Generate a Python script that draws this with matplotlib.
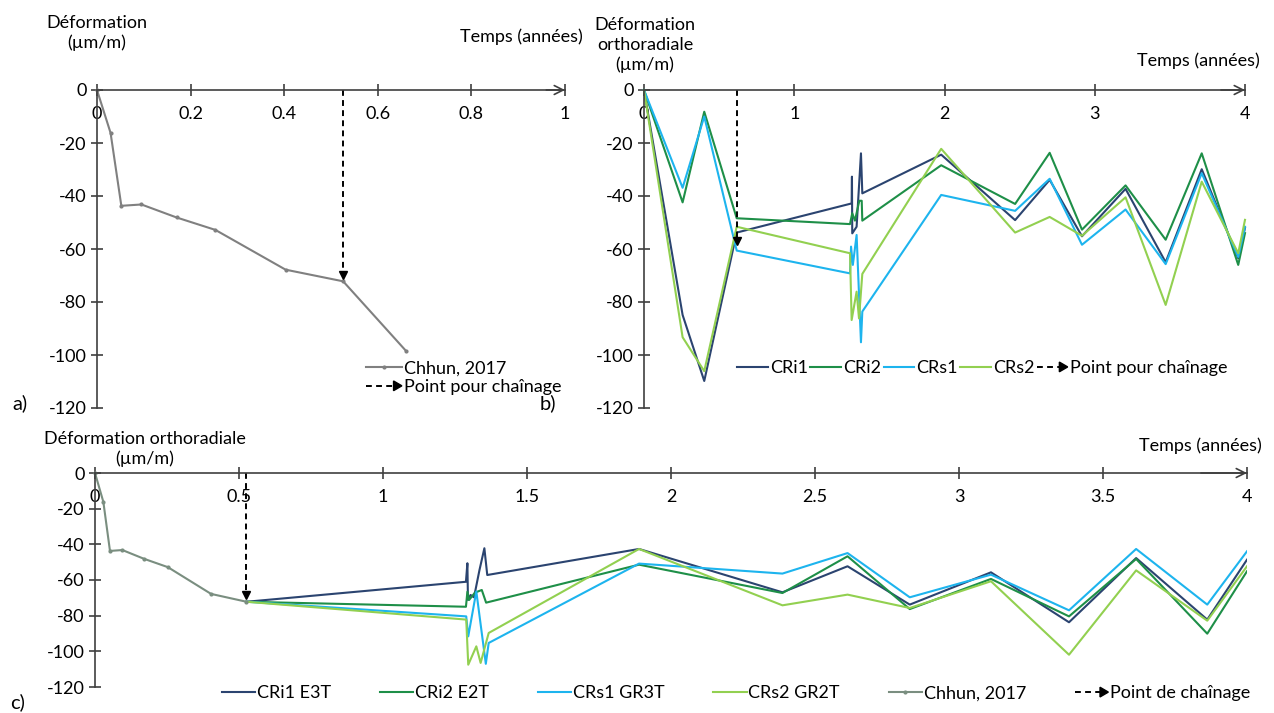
import matplotlib
matplotlib.use("Agg")
import matplotlib.pyplot as plt
from matplotlib.lines import Line2D
from matplotlib.patches import Polygon
from matplotlib.legend_handler import HandlerBase

plt.rcParams['font.family'] = ['Lato', 'DejaVu Sans']
plt.rcParams['font.size'] = 13
plt.rcParams['axes.unicode_minus'] = False

# --- données ---
# Chhun, 2017
t_chhun = [0, 0.029, 0.052, 0.095, 0.170, 0.253, 0.403, 0.526, 0.660]
d_chhun = [0, -16.2, -43.7, -43.2, -48.1, -52.8, -67.8, -72.2, -98.4]

# panel b
t_b_cri1 = [0, 0.257, 0.401, 0.617, 1.382, 1.384, 1.386, 1.415, 1.444, 1.453,
            1.978, 2.47, 2.70, 2.915, 3.205, 3.472, 3.712, 3.955, 4.0]
d_b_cri1 = [0, -84.9, -109.8, -53.8, -42.8, -32.7, -54.1, -51.6, -23.9, -39,
            -24.4, -49.1, -33.9, -55.2, -37.3, -65, -29.9, -63.5, -52]
t_b_cri2 = [0, 0.257, 0.401, 0.617, 1.371, 1.386, 1.404, 1.433, 1.449, 1.453,
            1.978, 2.47, 2.70, 2.915, 3.205, 3.472, 3.712, 3.955, 4.0]
d_b_cri2 = [0, -42.4, -8.2, -48.4, -50.6, -46.5, -49.3, -41.8, -41.8, -49.3,
            -28.4, -43, -23.7, -52.7, -36, -56.5, -23.9, -66, -54]
t_b_crs1 = [0, 0.257, 0.401, 0.617, 1.371, 1.378, 1.39, 1.415, 1.444, 1.453,
            1.978, 2.47, 2.70, 2.915, 3.205, 3.472, 3.712, 3.955, 4.0]
d_b_crs1 = [0, -36.9, -10, -60.6, -69.2, -59.1, -66, -54.7, -95.2, -83.6,
            -39.6, -45.6, -33.5, -58.4, -45.1, -65.7, -31.4, -63, -51.6]
t_b_crs2 = [0, 0.257, 0.401, 0.617, 1.371, 1.382, 1.415, 1.431, 1.453,
            1.978, 2.47, 2.70, 2.915, 3.205, 3.472, 3.712, 3.955, 4.0]
d_b_crs2 = [0, -93.3, -106.1, -51.6, -61.6, -86.8, -76.1, -86.2, -69.4,
            -22.2, -53.8, -47.9, -55, -40.5, -81.1, -34.6, -61.6, -49]
chain_b = (0.617, -59.5)

# panel c
t_c_cri1 = [0.526, 1.288, 1.293, 1.295, 1.304, 1.316, 1.335, 1.352, 1.362,
            1.889, 2.387, 2.613, 2.829, 3.111, 3.382, 3.615, 3.862, 4.0]
d_c_cri1 = [-72.2, -61, -50.6, -71.2, -68.4, -69.7, -54.4, -42.2, -57.2,
            -42.6, -66.9, -52.3, -73.8, -55.7, -83.7, -47.7, -82.2, -48.6]
t_c_cri2 = [0.526, 1.288, 1.293, 1.299, 1.319, 1.343, 1.358,
            1.889, 2.387, 2.613, 2.829, 3.111, 3.382, 3.615, 3.862, 4.0]
d_c_cri2 = [-72.2, -75, -66.6, -71.2, -67.1, -65.6, -72.7,
            -51.4, -67.3, -46.7, -76.3, -59.4, -80.4, -48.2, -90.1, -55.1]
t_c_crs1 = [0.526, 1.289, 1.296, 1.324, 1.357, 1.367,
            1.889, 2.387, 2.613, 2.829, 3.111, 3.382, 3.615, 3.862, 4.0]
d_c_crs1 = [-72.2, -80.4, -91.6, -66.4, -107, -95.3,
            -50.8, -56.4, -44.9, -69.7, -57, -77, -42.6, -73.8, -43.9]
t_c_crs2 = [0.526, 1.289, 1.296, 1.324, 1.339, 1.367,
            1.889, 2.387, 2.613, 2.829, 3.111, 3.382, 3.615, 3.862, 4.0]
d_c_crs2 = [-72.2, -82.2, -107.5, -97.2, -106.5, -89.7,
            -42.6, -74.2, -68.2, -75.7, -60.7, -101.9, -54.6, -82.8, -52.3]

yticks = [0, -20, -40, -60, -80, -100, -120]
xticks_a = [0, 0.2, 0.4, 0.6, 0.8, 1]
xticks_b = [0, 1, 2, 3, 4]
xticks_c = [0, 0.5, 1, 1.5, 2, 2.5, 3, 3.5, 4]

c_cri1 = '#2B4470'
c_cri2 = '#1E8F48'
c_crs1 = '#1DB4EE'
c_crs2 = '#92D050'
c_chhun = '#808080'
c_axe = '#3F3F3F'
fs = 13


class ChainArrow:
    pass


class ArrowHandler(HandlerBase):
    def create_artists(self, legend, orig_handle, xdescent, ydescent,
                       width, height, fontsize, trans):
        y = height / 2 - ydescent
        x0 = -xdescent
        x1 = width - xdescent
        line = Line2D([x0, x1 - 5], [y, y], ls=(0, (3, 2.2)), lw=1.4,
                      color='black', transform=trans)
        head = Polygon([[x1 - 6, y - 3.5], [x1 - 6, y + 3.5], [x1, y]],
                       closed=True, fc='black', ec='black', transform=trans)
        return [line, head]


def setup(ax, xmax, xticks, xlabels):
    ax.set_xlim(0, xmax)
    ax.set_ylim(-120, 0)
    ax.spines['top'].set_visible(False)
    ax.spines['right'].set_visible(False)
    ax.spines['bottom'].set_position(('data', 0))
    ax.spines['left'].set_position(('data', 0))
    for s in ['bottom', 'left']:
        ax.spines[s].set_color(c_axe)
        ax.spines[s].set_linewidth(1.2)
    ax.set_xticks(xticks)
    ax.set_xticklabels(xlabels)
    ax.set_yticks(yticks)
    ax.set_yticklabels([str(v) for v in yticks])
    ax.tick_params(axis='both', direction='inout', length=9, width=1.2,
                   color=c_axe, labelsize=fs, labelcolor='black')
    ax.tick_params(axis='x', pad=7)
    ax.tick_params(axis='y', pad=3)
    ax.patch.set_visible(False)
    ax.annotate('', xy=(xmax, 0), xytext=(xmax * 0.96, 0),
                arrowprops=dict(arrowstyle='->', color=c_axe, lw=1.2,
                                mutation_scale=16, shrinkA=0, shrinkB=0),
                annotation_clip=False)


W, H = 1274, 713
fig = plt.figure(figsize=(W / 100, H / 100), dpi=100)


def px_axes(x0, x1, y0, y1):
    return fig.add_axes([x0 / W, 1 - y1 / H, (x1 - x0) / W, (y1 - y0) / H])


lw = 1.5

# ---- a) ----
ax_a = px_axes(97, 565, 90, 408)
setup(ax_a, 1, xticks_a, ['0', '0.2', '0.4', '0.6', '0.8', '1'])
ax_a.plot(t_chhun, d_chhun, color=c_chhun, lw=lw, marker='.', ms=4, clip_on=False)
ax_a.plot([t_chhun[7], t_chhun[7]], [0, d_chhun[7] + 4], ls=(0, (3, 2.2)),
          color='black', lw=1.4)
ax_a.plot([t_chhun[7]], [d_chhun[7] + 2.5], marker='v', ms=6, color='black')
ax_a.legend(handles=[Line2D([], [], color=c_chhun, lw=lw, marker='.', ms=4),
                     ChainArrow()],
            labels=['Chhun, 2017', 'Point pour chaînage'],
            handler_map={ChainArrow: ArrowHandler()},
            loc='center left', bbox_to_anchor=(0.555, 0.095),
            frameon=False, borderpad=0, handlelength=2.0,
            handletextpad=0.1, labelspacing=0.15, numpoints=1, fontsize=fs)

# ---- b) ----
ax_b = px_axes(644, 1245, 90, 408)
setup(ax_b, 4, xticks_b, ['0', '1', '2', '3', '4'])
ax_b.plot(t_b_cri1, d_b_cri1, color=c_cri1, lw=lw, clip_on=False, label='CRi1')
ax_b.plot(t_b_cri2, d_b_cri2, color=c_cri2, lw=lw, clip_on=False, label='CRi2')
ax_b.plot(t_b_crs1, d_b_crs1, color=c_crs1, lw=lw, clip_on=False, label='CRs1')
ax_b.plot(t_b_crs2, d_b_crs2, color=c_crs2, lw=lw, clip_on=False, label='CRs2')
ax_b.plot([chain_b[0], chain_b[0]], [0, chain_b[1] + 4], ls=(0, (3, 2.2)),
          color='black', lw=1.4)
ax_b.plot([chain_b[0]], [chain_b[1] + 2.5], marker='v', ms=6, color='black')
h_b, l_b = ax_b.get_legend_handles_labels()
ax_b.legend(handles=h_b + [ChainArrow()], labels=l_b + ['Point pour chaînage'],
            handler_map={ChainArrow: ArrowHandler()},
            loc='center left', bbox_to_anchor=(0.14, 0.125),
            frameon=False, borderpad=0, ncol=5, handlelength=1.7,
            handletextpad=0.1, columnspacing=0.15, fontsize=fs)

# ---- c) ----
ax_c = px_axes(95, 1247, 473, 687)
setup(ax_c, 4, xticks_c, ['0', '0.5', '1', '1.5', '2', '2.5', '3', '3.5', '4'])
ax_c.plot(t_c_cri1, d_c_cri1, color=c_cri1, lw=lw, label='CRi1 E3T')
ax_c.plot(t_c_cri2, d_c_cri2, color=c_cri2, lw=lw, label='CRi2 E2T')
ax_c.plot(t_c_crs1, d_c_crs1, color=c_crs1, lw=lw, label='CRs1 GR3T')
ax_c.plot(t_c_crs2, d_c_crs2, color=c_crs2, lw=lw, label='CRs2 GR2T')
ax_c.plot(t_chhun[:8], d_chhun[:8], color='#7A8E80', lw=lw, marker='.', ms=4,
          clip_on=False, label='Chhun, 2017')
ax_c.plot([t_chhun[7], t_chhun[7]], [0, d_chhun[7] + 6], ls=(0, (3, 2.2)),
          color='black', lw=1.4)
ax_c.plot([t_chhun[7]], [d_chhun[7] + 4], marker='v', ms=6, color='black')
h_c, l_c = ax_c.get_legend_handles_labels()
ax_c.legend(handles=h_c + [ChainArrow()], labels=l_c + ['Point de chaînage'],
            handler_map={ChainArrow: ArrowHandler()},
            loc='center left', bbox_to_anchor=(0.102, -0.03),
            frameon=False, borderpad=0, ncol=6, handlelength=1.85,
            handletextpad=0.1, columnspacing=2.7, fontsize=fs)


# ---- textes ----
def ftext(x, y, s, **kw):
    fig.text(x / W, 1 - y / H, s, fontsize=fs, va='center', **kw)


ftext(97, 33, 'Déformation\n(µm/m)', ha='center', linespacing=1.3)
ftext(583, 37, 'Temps (années)', ha='right')
ftext(645, 45, 'Déformation\northoradiale\n(µm/m)', ha='center', linespacing=1.25)
ftext(1260, 61, 'Temps (années)', ha='right')
ftext(145, 449, 'Déformation orthoradiale\n(µm/m)', ha='center', linespacing=1.25)
ftext(1262, 446, 'Temps (années)', ha='right')
fig.text(12 / W, 1 - 403 / H, 'a)', fontsize=14.5, va='center')
fig.text(540 / W, 1 - 403 / H, 'b)', fontsize=14.5, va='center')
fig.text(10 / W, 1 - 702 / H, 'c)', fontsize=14.5, va='center')

fig.savefig('out.png', dpi=100)
